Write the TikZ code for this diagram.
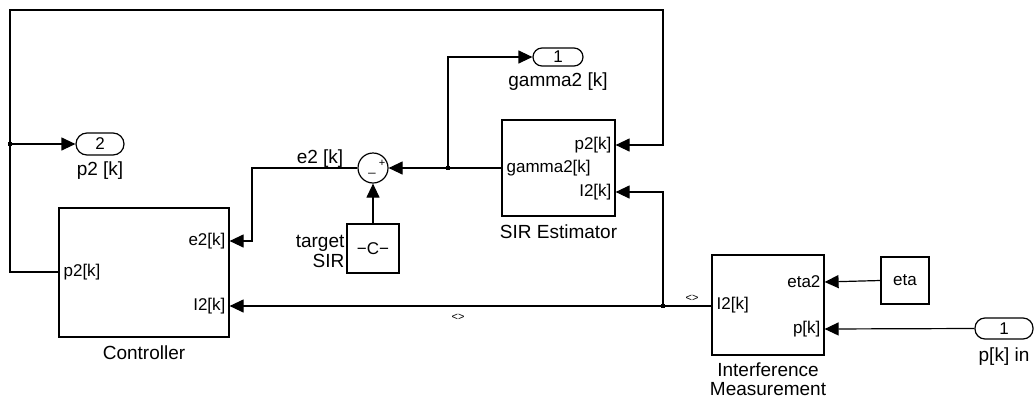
\documentclass[tikz,border=0pt]{standalone}
\usepackage{fontspec}
\setmainfont{Liberation Sans}
\usetikzlibrary{arrows.meta,calc}
\begin{document}
\begin{tikzpicture}[x=1pt,y=-1pt,
  line width=1.2pt,
  arr/.style={-{Triangle[length=14pt,width=13pt]}},
  blk/.style={draw,rectangle,inner sep=0pt},
  blkname/.style={font=\fontsize{19}{22}\selectfont,inner sep=0pt},
  portl/.style={font=\fontsize{17}{20}\selectfont,inner sep=0pt},
  term/.style={draw,rectangle,rounded corners=9pt,inner sep=0pt,font=\fontsize{17}{20}\selectfont},
  dotj/.style={fill,rectangle,minimum size=4pt,inner sep=0pt},
  small/.style={font=\fontsize{11}{12}\selectfont,inner sep=0pt}]
\useasboundingbox (0,0) rectangle (1036,402);

% blocks
\node[blk,minimum width=170pt,minimum height=129pt] (ctl) at (144,272.5) {};
\node[blk,minimum width=113pt,minimum height=96pt] (sir) at (558.5,168) {};
\node[blk,minimum width=112pt,minimum height=100pt] (im) at (768,305) {};
\node[blk,minimum width=48pt,minimum height=47pt,font=\fontsize{17}{20}\selectfont] (eta) at (905,280.5) {eta};
\node[blk,minimum width=52pt,minimum height=49pt,font=\fontsize{17}{20}\selectfont] (cst) at (373,248.5) {−C−};
\node[draw,circle,minimum size=30pt,inner sep=0pt] (sum) at (373,168) {};
\node[small] (plus) at (382,163) {+};
\node[small,font=\fontsize{13}{14}\selectfont] (minus) at (372,173) {\_};
\node[term,minimum width=50pt,minimum height=18pt] (out1) at (558,57) {1};
\node[term,minimum width=48pt,minimum height=22pt,rounded corners=11pt] (out2) at (100,144) {2};
\node[term,minimum width=58pt,minimum height=21pt,rounded corners=10pt] (in1) at (1004,328.5) {1};

% block names
\node[blkname] (ctlname) at (144,353) {Controller};
\node[blkname] (sirname) at (558.5,232) {SIR Estimator};
\node[blkname,align=center,font=\fontsize{19}{19}\selectfont] (imname) at (768,379) {Interference\\Measurement};
\node[blkname] (out1name) at (558,82) {gamma2 [k]};
\node[blkname] (out2name) at (100,171) {p2 [k]};
\node[blkname] (in1name) at (1004,357) {p[k] in};
\node[blkname,align=right,anchor=east,font=\fontsize{19}{20}\selectfont] (cstname) at (345,251) {target\\SIR};

% port labels
\node[portl,anchor=west] (lc1) at (63,272) {p2[k]};
\node[portl,anchor=east] (lc2) at (226,241) {e2[k]};
\node[portl,anchor=east] (lc3) at (226,306) {I2[k]};
\node[portl,anchor=east] (ls1) at (612,145) {p2[k]};
\node[portl,anchor=west] (ls2) at (506,168) {gamma2[k]};
\node[portl,anchor=east] (ls3) at (612,192) {I2[k]};
\node[portl,anchor=east] (li1) at (821,282) {eta2};
\node[portl,anchor=west] (li2) at (716,305) {I2[k]};
\node[portl,anchor=east] (li3) at (821,329) {p[k]};

% port coordinates
\coordinate (ctl-p2) at (ctl.west |- 0,272);
\coordinate (ctl-e2) at (ctl.east |- 0,241);
\coordinate (ctl-I2) at (ctl.east |- 0,306);
\coordinate (sir-p2) at (sir.east |- 0,145);
\coordinate (sir-g) at (sir.west |- 0,168);
\coordinate (sir-I2) at (sir.east |- 0,192);
\coordinate (im-eta) at (im.east |- 0,282);
\coordinate (im-I2) at (im.west |- 0,306);
\coordinate (im-p) at (im.east |- 0,329);

% routing points
\coordinate (fbA) at (10,272);
\coordinate (fbB) at (10,10);
\coordinate (fbC) at (663,10);
\coordinate (j1) at (10,144);
\coordinate (j2) at (448,168);
\coordinate (j3) at (663,306);
\coordinate (e2b) at (252,168);

% connectors
\draw[arr] (ctl-p2) -- (fbA) -- (fbB) -- (fbC) |- (sir-p2);
\draw[arr] (j1) -- (out2.west);
\node[dotj] at (j1) {};
\draw[arr] (sir-g) -- (sum.east);
\draw[arr] (j2) |- (out1.west);
\node[dotj] at (j2) {};
\draw[arr] (sum.west) -- (e2b) |- (ctl-e2);
\node[blkname] (e2lbl) at (320,159) {e2 [k]};
\draw[arr] (cst.north) -- (sum.south);
\draw[arr] (im-I2) -- (ctl-I2);
\draw[arr] (j3) |- (sir-I2);
\node[dotj] at (j3) {};
\node[small] (sig1) at (458,317) {<>};
\node[small] (sig2) at (692,298) {<>};
\draw[arr] (eta.west) -- (im-eta);
\draw[arr] (in1.west) -- (im-p);
\end{tikzpicture}
\end{document}
